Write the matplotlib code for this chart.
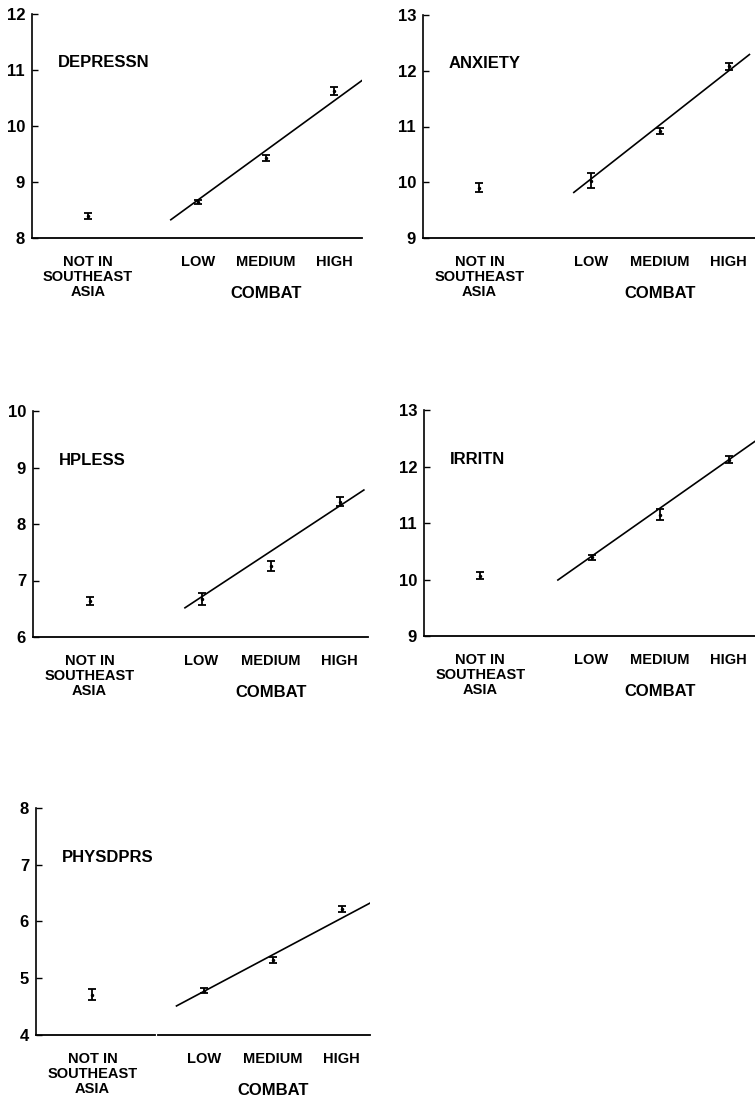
import matplotlib
matplotlib.use("Agg")
import matplotlib.pyplot as plt

# ---------------- data ----------------
categories = ["NOT IN\nSOUTHEAST\nASIA", "LOW", "MEDIUM", "HIGH"]
group_label = "COMBAT"
panel_names = ["DEPRESSN", "ANXIETY", "HPLESS", "IRRITN", "PHYSDPRS"]
y_ranges = [(8, 12), (9, 13), (6, 10), (9, 13), (4, 8)]

depressn_mean = [8.39, 8.64, 9.43, 10.62]
depressn_err = [0.05, 0.04, 0.06, 0.07]
anxiety_mean = [9.90, 10.03, 10.92, 12.08]
anxiety_err = [0.08, 0.14, 0.05, 0.06]
hpless_mean = [6.64, 6.67, 7.26, 8.39]
hpless_err = [0.07, 0.11, 0.09, 0.08]
irritn_mean = [10.07, 10.39, 11.15, 12.12]
irritn_err = [0.06, 0.05, 0.10, 0.06]
physdprs_mean = [4.71, 4.78, 5.32, 6.22]
physdprs_err = [0.10, 0.04, 0.05, 0.05]

# fitted trend line values at LOW and HIGH combat
trend_low = [8.68, 10.06, 6.71, 10.41, 4.77]
trend_high = [10.45, 12.00, 8.32, 12.12, 6.06]

means = [depressn_mean, anxiety_mean, hpless_mean, irritn_mean, physdprs_mean]
errs = [depressn_err, anxiety_err, hpless_err, irritn_err, physdprs_err]

# ---------------- layout / style ----------------
W, H = 755, 1099
xpos = [1.0, 2.62, 3.62, 4.62]
XLIM = (0.18, 5.03)
# axes boxes in pixels: left, top, right, bottom
boxes = [(32, 14, 362, 238), (423, 15, 757, 238), (33, 411, 368, 637),
         (424, 410, 757, 636), (36, 808, 370, 1035)]
# trend line extent (offset before LOW, after HIGH)
trend_ext = [(0.40, 0.48), (0.25, 0.30), (0.24, 0.35), (0.49, 0.60), (0.40, 0.47)]

plt.rcParams["font.family"] = ["Liberation Sans", "DejaVu Sans"]
plt.rcParams["font.weight"] = "bold"

fig = plt.figure(figsize=(W / 100, H / 100), dpi=100)

for i, name in enumerate(panel_names):
    l, t, r, b = boxes[i]
    ax = fig.add_axes([l / W, 1 - b / H, (r - l) / W, (b - t) / H])
    ymin, ymax = y_ranges[i]
    ax.set_xlim(*XLIM)
    ax.set_ylim(ymin, ymax)

    ax.errorbar(xpos, means[i], yerr=errs[i], fmt=".", ms=3, color="k",
                ecolor="k", elinewidth=1.3, capsize=3.2, capthick=1.3)

    lo_x, hi_x = xpos[1], xpos[3]
    slope = (trend_high[i] - trend_low[i]) / (hi_x - lo_x)
    xs = [lo_x - trend_ext[i][0], hi_x + trend_ext[i][1]]
    ys = [trend_low[i] + slope * (x - lo_x) for x in xs]
    ax.plot(xs, ys, color="k", lw=1.2)

    for s in ["top", "right"]:
        ax.spines[s].set_visible(False)
    ax.spines["left"].set_linewidth(1.2)
    ax.spines["bottom"].set_linewidth(1.3)
    if i == 4:
        ax.spines["bottom"].set_visible(False)
        ax.axhline(ymin, xmin=0, xmax=0.356, color="k", lw=1.3, clip_on=False)
        ax.axhline(ymin, xmin=0.366, xmax=1, color="k", lw=1.3, clip_on=False)

    ax.set_yticks(range(ymin, ymax + 1))
    ax.set_yticklabels([str(v) for v in range(ymin, ymax + 1)],
                       fontsize=12, fontweight="bold")
    ax.tick_params(axis="y", direction="in", length=4, width=1, pad=5)

    ax.set_xticks(xpos)
    ax.set_xticklabels(categories, fontsize=10.5, fontweight="bold")
    ax.tick_params(axis="x", length=0, pad=12)
    for lbl in ax.get_xticklabels():
        lbl.set_linespacing(1.1)

    ax.annotate(group_label, xy=(xpos[2], 0), xycoords=("data", "axes fraction"),
                xytext=(0, -43), textcoords="offset points", ha="center",
                va="baseline", fontsize=12, fontweight="bold")
    ax.text(0.078, 0.782, name, transform=ax.transAxes, ha="left", va="center",
            fontsize=12, fontweight="bold")

fig.savefig("out.png", dpi=100)
